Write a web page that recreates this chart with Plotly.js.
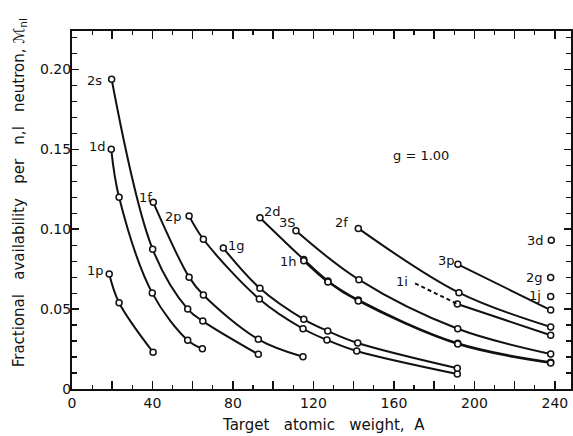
<!DOCTYPE html>
<html>
<head>
<meta charset="utf-8">
<script src="https://cdn.plot.ly/plotly-3.0.1.min.js"></script>
<style>html,body{margin:0;padding:0;background:#fff;}#chart{width:573px;height:436px;}</style>
</head>
<body>
<div id="chart"></div>
<script>
// Target atomic weight A (x) and fractional availability (y) per n,l shell
const p1_A = [18.5, 23.4, 40.3];
const p1_M = [0.072, 0.054, 0.023];
const d1_A = [19.5, 23.4, 39.9, 57.5, 64.8];
const d1_M = [0.150, 0.120, 0.060, 0.0305, 0.0252];
const s2_A = [19.7, 40.1, 57.5, 65.0, 92.6];
const s2_M = [0.1938, 0.0874, 0.050, 0.0425, 0.0217];
const f1_A = [40.4, 58.2, 65.3, 92.6, 114.8];
const f1_M = [0.1168, 0.070, 0.0588, 0.0311, 0.0202];
const p2_A = [58.2, 65.3, 93.1, 114.8, 126.7, 141.5, 191.5];
const p2_M = [0.1083, 0.0937, 0.0563, 0.0377, 0.0307, 0.0238, 0.0094];
const g1_A = [75.2, 93.4, 115.2, 127.1, 142.0, 191.5];
const g1_M = [0.0882, 0.063, 0.0436, 0.0363, 0.0288, 0.013];
const d2_A = [93.4, 115.2, 127.2, 142.3, 191.7, 237.9];
const d2_M = [0.1072, 0.0810, 0.0676, 0.0557, 0.0286, 0.0167];
const h1_A = [115.2, 127.2, 142.3, 191.7, 237.9];
const h1_M = [0.0803, 0.0670, 0.0551, 0.0281, 0.0163];
const s3_A = [111.3, 142.6, 191.7, 237.9];
const s3_M = [0.099, 0.0684, 0.0377, 0.0219];
const f2_A = [142.3, 192.3, 237.9];
const f2_M = [0.1005, 0.0603, 0.0388];
const i1dash_A = [170.5, 191.5];
const i1dash_M = [0.0661, 0.0532];
const i1_A = [191.5, 237.9];
const i1_M = [0.0532, 0.0336];
const p3_A = [191.8, 237.9];
const p3_M = [0.078, 0.0494];
const single_A = [238.2, 237.9, 237.9];   // 3d, 2g, 1j
const single_M = [0.093, 0.0697, 0.0578];

// curve labels
const labelText = ['2s', '1d', '1f', '2p', '1g', '1p', '2d', '3S', '1h', '2f', '1i', '3p', '3d', '2g', '1j', 'g = 1.00'];
const labelPos = [[11.4,0.193],[12.9,0.152],[36.3,0.120],[50.2,0.108],[82.0,0.090],[11.7,0.074],
                  [99.4,0.111],[107.1,0.104],[107.4,0.080],[133.9,0.104],[164.0,0.067],[185.9,0.0807],
                  [230.6,0.093],[230.1,0.070],[229.9,0.0588],[173.2,0.1464]];

// axis ticks
const xTickVals = [0,20,40,60,80,100,120,140,160,180,200,220,240];
const xTickText = ['0',' ','40',' ','80',' ','120',' ','160',' ','200',' ','240'];
const yTickVals = [0,0.05,0.10,0.15,0.20];
const yTickText = ['0','0.05','0.10','0.15','0.20'];

const curves = [
  [p1_A,p1_M],[d1_A,d1_M],[s2_A,s2_M],[f1_A,f1_M],[p2_A,p2_M],[g1_A,g1_M],
  [d2_A,d2_M],[h1_A,h1_M],[s3_A,s3_M],[f2_A,f2_M],[i1_A,i1_M],[p3_A,p3_M]
];
const mk = {symbol:'circle', size:6, color:'#fff', line:{width:1.5, color:'#111'}};
const traces = curves.map(c => ({
  x:c[0], y:c[1], type:'scatter', mode:'lines+markers',
  line:{color:'#111', width:2, shape:'spline', smoothing:1},
  marker:mk, hoverinfo:'none', showlegend:false
}));
traces.push({x:i1dash_A, y:i1dash_M, type:'scatter', mode:'lines',
  line:{color:'#111', width:2, dash:'4px,3px'}, hoverinfo:'none', showlegend:false});
traces.push({x:single_A, y:single_M, type:'scatter', mode:'markers',
  marker:mk, hoverinfo:'none', showlegend:false});

const FONT = 'DejaVu Sans, Arial, sans-serif';
const annotations = labelText.map((t,i) => ({
  x:labelPos[i][0], y:labelPos[i][1], xref:'x', yref:'y', text:t, showarrow:false,
  xanchor:'center', yanchor:'middle', font:{family:FONT, size:13, color:'#111'}
}));
const sp = '\u00a0\u00a0 ';
annotations.push({xref:'paper', yref:'paper', x:-0.106, y:0.547, textangle:-90, showarrow:false,
  xanchor:'center', yanchor:'middle',
  text:'Fractional' + sp + 'availability' + sp + 'per' + sp + 'n,l' + sp + 'neutron, \u2133<sub>nl</sub>',
  font:{family:FONT, size:15, color:'#111'}});
annotations.push({xref:'paper', yref:'paper', x:0.505, y:-0.1, showarrow:false,
  xanchor:'center', yanchor:'middle',
  text:'Target' + sp + 'atomic' + sp + 'weight,\u00a0 A', font:{family:FONT, size:15, color:'#111'}});

const layout = {
  width:573, height:436,
  margin:{l:72, r:2, t:31, b:47},
  paper_bgcolor:'#fff', plot_bgcolor:'#fff',
  font:{family:FONT, size:13, color:'#111'},
  xaxis:{range:[0,248], showgrid:false, zeroline:false, showline:true, linewidth:2, linecolor:'#111',
    mirror:'ticks', ticks:'inside', ticklen:8, tickwidth:1.5, tickcolor:'#111',
    tickmode:'array', tickvals:xTickVals, ticktext:xTickText,
    minor:{dtick:10, ticks:'inside', ticklen:4, tickwidth:1.2, tickcolor:'#111', showgrid:false},
    tickfont:{family:FONT, size:14, color:'#111'}},
  yaxis:{range:[0,0.224], showgrid:false, zeroline:false, showline:true, linewidth:2, linecolor:'#111',
    mirror:'ticks', ticks:'inside', ticklen:7, tickwidth:1.5, tickcolor:'#111',
    tickmode:'array', tickvals:yTickVals, ticktext:yTickText, ticklabelstandoff:-4,
    minor:{dtick:0.01, ticks:'inside', ticklen:5, tickwidth:1.2, tickcolor:'#111', showgrid:false},
    tickfont:{family:FONT, size:14, color:'#111'}},
  annotations:annotations
};
Plotly.newPlot('chart', traces, layout, {staticPlot:true, displayModeBar:false});
</script>
</body>
</html>
